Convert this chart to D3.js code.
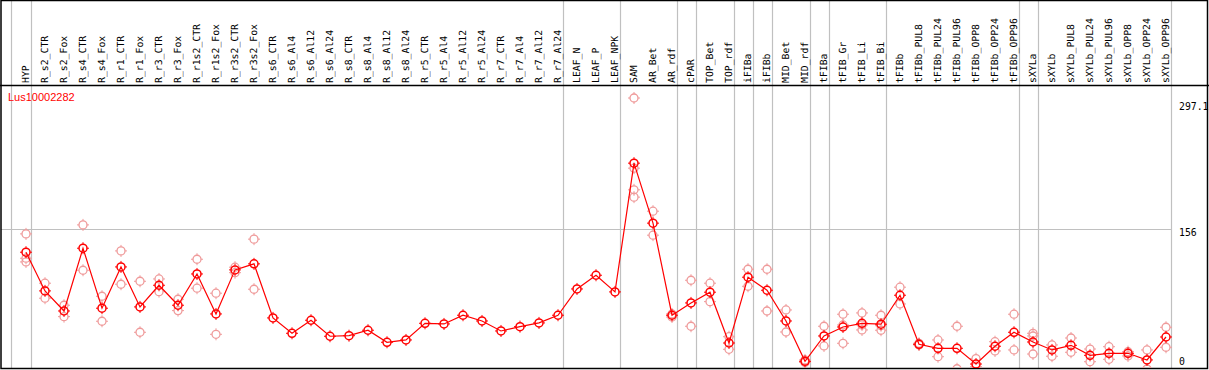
<!DOCTYPE html>
<html><head><meta charset="utf-8">
<script src="https://cdn.jsdelivr.net/npm/d3@7"></script>
<style>body{margin:0;background:#fff}svg{display:block}</style>
</head><body>
<svg id="c" width="1209" height="370"></svg>
<script>
const geneId = "Lus10002282";
const categories = ["HYP","R_s2_CTR","R_s2_Fox","R_s4_CTR","R_s4_Fox","R_r1_CTR","R_r1_Fox","R_r3_CTR","R_r3_Fox","R_r1s2_CTR","R_r1s2_Fox","R_r3s2_CTR","R_r3s2_Fox","R_s6_CTR","R_s6_Al4","R_s6_Al12","R_s6_Al24","R_s8_CTR","R_s8_Al4","R_s8_Al12","R_s8_Al24","R_r5_CTR","R_r5_Al4","R_r5_Al12","R_r5_Al24","R_r7_CTR","R_r7_Al4","R_r7_Al12","R_r7_Al24","LEAF_N","LEAF_P","LEAF_NPK","SAM","AR_Bet","AR_rdf","cPAR","TOP_Bet","TOP_rdf","iFIBa","iFIBb","MID_Bet","MID_rdf","tFIBa","tFIB_Gr","tFIB_Li","tFIB_Bi","tFIBb","tFIBb_PUL8","tFIBb_PUL24","tFIBb_PUL96","tFIBb_OPP8","tFIBb_OPP24","tFIBb_OPP96","sXYLa","sXYLb","sXYLb_PUL8","sXYLb_PUL24","sXYLb_PUL96","sXYLb_OPP8","sXYLb_OPP24","sXYLb_OPP96"];
const means = [130.5,88.7,67.0,134.8,70.0,114.6,71.4,94.8,73.2,107.0,63.8,111.4,117.9,59.5,42.9,57.0,39.7,40.3,46.2,33.2,35.7,53.7,53.0,62.4,56.2,45.4,50.1,54.1,62.4,90.8,105.6,87.6,226.7,161.9,62.4,75.7,87.3,32.4,103.5,89.4,56.2,12.6,40.0,49.7,53.7,52.7,84.0,31.0,26.7,26.7,9.7,28.9,44.0,33.5,24.9,29.9,19.1,21.3,21.3,14.1,38.9];
const replicates = [[150.3,124.0,120.0],[97.0,80.8],[73.2,60.9],[160.0,111.0],[82.9,55.9],[131.9,95.9],[99.1,44.0],[101.6,87.9],[79.7,67.4],[122.9,91.6],[86.2,41.8],[114.3,108.4],[144.6,90.5],[],[],[],[],[],[],[],[],[],[],[],[],[],[],[],[],[],[],[],[297.1,221.3,197.9,190.0],[174.8,148.9],[63.8,60.5],[100.2,50.5],[97.0,77.1],[39.2,25.6],[112.1,93.7],[112.1,67.0],[68.1,44.3],[14.1,11.4],[50.5,29.2],[63.5,51.9,32.1],[64.9,51.9,46.5],[62.4,51.1,46.2],[92.7,74.6],[32.1,30.3],[35.7,17.6],[50.5,4.6],[15.5,6.8],[33.8,23.8],[63.5,24.9],[42.9,40.0,20.5],[30.3,18.1],[37.8,22.4],[25.9,12.2],[28.4,14.8],[23.0,18.4],[24.9,4.3],[49.4,27.8]];
const groupEnds = ["HYP","R_r7_Al24","LEAF_NPK","AR_rdf","cPAR","TOP_rdf","iFIBa","iFIBb","MID_rdf","tFIBa","tFIB_Bi","tFIBb_OPP96","sXYLa","sXYLb_OPP96"];
const tickValues = [0,156,297.1];
const tickLabels = ["0","156","297.1"];

const W = 1209, H = 370;
const svg = d3.select("#c");
const x = d3.scalePoint().domain(categories).range([26, 26 + 19*(categories.length-1)]);
const y = d3.scaleLinear().domain([0, 297.1]).range([373, 98]);
const headerBottom = 85, plotBottom = 368.5;
const mono = "'DejaVu Sans Mono', monospace";

// separators
const seps = [x(categories[0]) - 15].concat(groupEnds.map(c => x(c) + 4.5));
svg.append("g").selectAll("line").data(seps).join("line")
  .attr("x1", d => Math.round(d)+0.5).attr("x2", d => Math.round(d)+0.5)
  .attr("y1", 0).attr("y2", plotBottom)
  .attr("stroke", "#c0c0c0").attr("stroke-width", 1.2);

// horizontal grid line (mid tick)
const lastSep = x(categories[categories.length-1]) + 4.5;
svg.append("g").selectAll("line").data(tickValues.filter((v,i)=> i>0 && i<tickValues.length-1)).join("line")
  .attr("x1", 1).attr("x2", Math.round(lastSep))
  .attr("y1", d => Math.round(y(d))+0.5).attr("y2", d => Math.round(y(d))+0.5)
  .attr("stroke", "#c0c0c0").attr("stroke-width", 1.2);

// borders
svg.append("rect").attr("x", 1).attr("y", 0.5).attr("width", W-2.5).attr("height", plotBottom-0.5)
  .attr("fill", "none").attr("stroke", "#000").attr("stroke-width", 1.5);
svg.append("line").attr("x1", 0).attr("x2", W).attr("y1", headerBottom+0.5).attr("y2", headerBottom+0.5)
  .attr("stroke", "#000").attr("stroke-width", 1.5);

// column labels
svg.append("g").selectAll("text").data(categories).join("text")
  .attr("transform", d => `translate(${x(d)+3},${headerBottom-2}) rotate(-90)`)
  .attr("font-family", mono).attr("font-size", 9.8).attr("fill", "#000")
  .attr("text-rendering", "geometricPrecision")
  .text(d => d);

// gene id
svg.append("text").attr("x", 8).attr("y", 101).attr("font-family", "'Liberation Sans', Arial, sans-serif")
  .attr("font-size", 11).attr("fill", "#ff0000").text(geneId);

// y tick labels
svg.append("g").selectAll("text").data(tickValues).join("text")
  .attr("x", Math.round(lastSep) + 8)
  .attr("y", d => Math.min(Math.max(y(d), 103), 358))
  .attr("dominant-baseline", "hanging")
  .attr("font-family", mono).attr("font-size", 9.8).attr("fill", "#000")
  .text((d,i) => tickLabels[i]);

function marker(g, color, sw) {
  g.append("circle").attr("r", 4).attr("fill", "none").attr("stroke", color).attr("stroke-width", sw);
  [[0,-4,0,-6],[0,4,0,6],[-4,0,-6,0],[4,0,6,0]].forEach(t =>
    g.append("line").attr("x1", t[0]).attr("y1", t[1]).attr("x2", t[2]).attr("y2", t[3])
      .attr("stroke", color).attr("stroke-width", 1));
}

// replicates
const repPts = [];
replicates.forEach((arr, i) => arr.forEach(v => repPts.push({c: categories[i], v})));
const clip = svg.append("clipPath").attr("id", "pc").append("rect")
  .attr("x", 2).attr("y", headerBottom+1).attr("width", W-4).attr("height", plotBottom-headerBottom-1.5);
const plot = svg.append("g").attr("clip-path", "url(#pc)");
plot.append("g").selectAll("g").data(repPts).join("g")
  .attr("transform", d => `translate(${x(d.c)},${y(d.v)})`)
  .each(function(){ marker(d3.select(this), "#ef9a9a", 1.3); });

// mean line
const pts = categories.map((c,i) => ({c, v: means[i]}));
plot.append("path").datum(pts)
  .attr("d", d3.line().x(d => x(d.c)).y(d => y(d.v)))
  .attr("fill", "none").attr("stroke", "#ff0000").attr("stroke-width", 1.2);
plot.append("g").selectAll("g").data(pts).join("g")
  .attr("transform", d => `translate(${x(d.c)},${y(d.v)})`)
  .each(function(){ marker(d3.select(this), "#ff0000", 1.5); });
</script>
</body></html>
